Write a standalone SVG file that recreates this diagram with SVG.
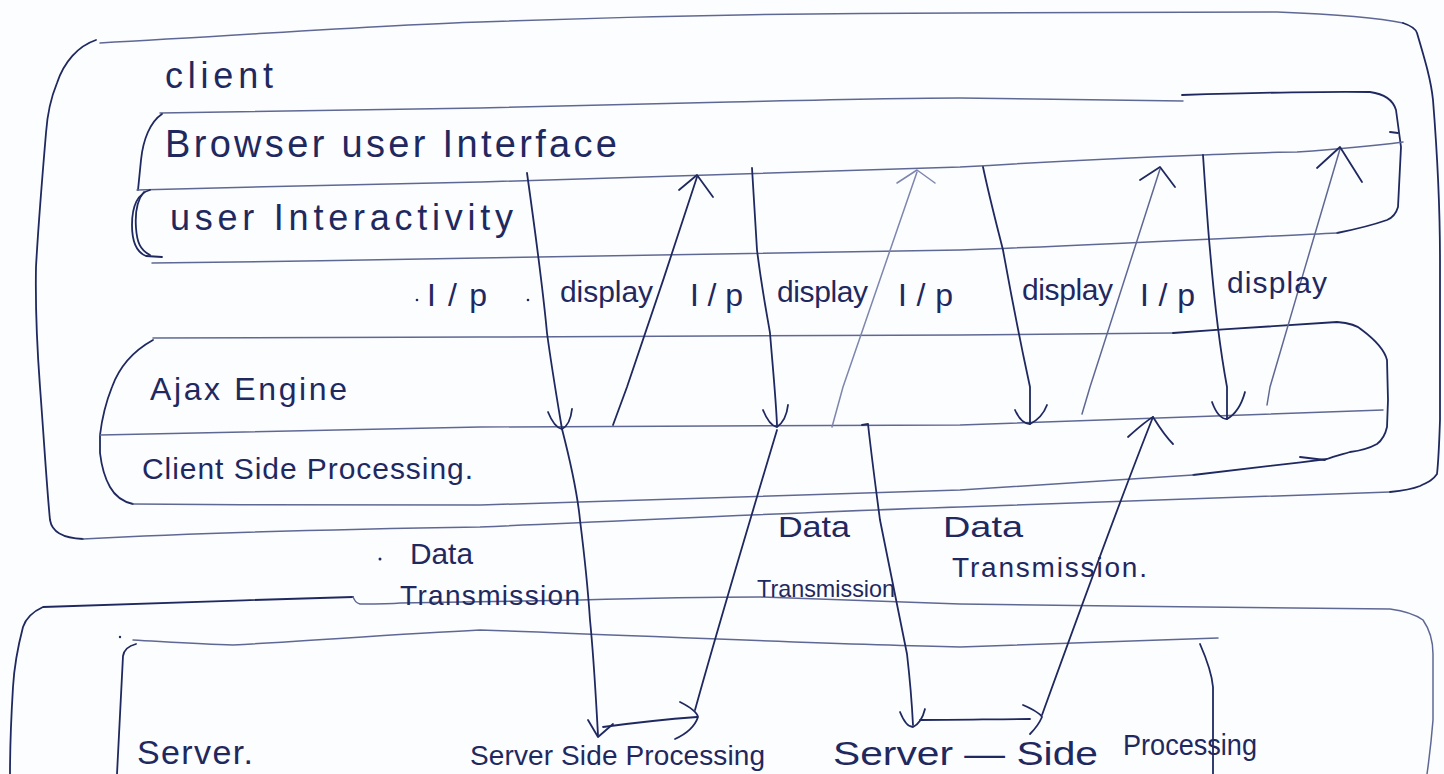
<svg xmlns="http://www.w3.org/2000/svg" width="1444" height="774" viewBox="0 0 1444 774">
  <style>
    .ink { fill: none; stroke: #1f2960; stroke-width: 1.8; stroke-linecap: round; stroke-linejoin: round; }
    .faint { fill: none; stroke: #5f6894; stroke-width: 1.5; stroke-linecap: round; stroke-linejoin: round; }
    .pale { fill: none; stroke: #7d86ad; stroke-width: 1.5; stroke-linecap: round; stroke-linejoin: round; }
    .txt { font-family: "Liberation Sans", "DejaVu Sans", sans-serif; fill: #1f2960; }
    .dot { fill: #1f2960; }
  </style>

  <rect width="1444" height="774" fill="#fcfdff"/>

  <!-- outer client boundary -->
  <g id="client">
    <path class="faint" d="M100,43 C250,35 380,25 480,22 C640,16 800,13 960,13 C1100,12 1200,12 1277,12 C1330,14 1380,18 1403,23"/>
    <path class="ink" d="M96,40 C78,46 64,62 57,83 C50,100 47,118 46,133 C42,180 38,230 36,267 C35,320 38,360 40,387 C44,440 47,490 50,520 C52,532 62,538 83,539"/>
    <path class="faint" d="M83,539 C200,533 350,529 480,527 C650,520 800,512 960,507 C1150,500 1300,494 1390,492"/>
    <path class="ink" d="M1403,23 C1412,26 1416,30 1417,33 C1425,60 1431,80 1433,100 C1437,150 1440,200 1440,260 C1440,330 1440,380 1440,420 C1439,450 1438,465 1437,474 C1433,480 1428,482 1420,486 C1410,490 1400,491 1390,492"/>
    <text class="txt" x="165" y="88" font-size="36" textLength="108" lengthAdjust="spacing">client</text>
  </g>

  <!-- browser user interface / user interactivity -->
  <g id="browser-ui">
    <path class="faint" d="M160,113 C300,111 400,109 480,108 C600,105 680,103 730,102 C820,100 900,98 960,98 C1050,99 1130,100 1183,101"/>
    <path class="ink" d="M1182,95 C1250,93 1320,91 1370,92 C1385,94 1393,100 1396,110 L1401,147 L1398,207 C1396,214 1392,218 1387,220 C1370,226 1352,230 1337,233"/>
    <path class="ink" d="M162,114 C150,122 143,140 141,160 L138,190"/>
    <path class="faint" d="M137,190 C250,187 380,184 480,182 C650,177 820,170 960,167 C1060,161 1150,157 1203,155 C1250,153 1280,152 1297,152 C1340,149 1380,145 1403,142"/>
    <path class="ink" d="M1390,132 L1398,133"/>
    <path class="ink" d="M150,190 C136,194 132,210 132,225 C132,240 136,252 146,256 L162,257"/>
    <path class="ink" d="M144,192 C137,200 135,214 136,228 C137,242 140,250 150,255"/>
    <path class="faint" d="M152,263 C250,262 380,260 480,258 C650,255 820,252 960,250 C1100,245 1250,237 1337,233"/>
    <text class="txt" x="165" y="157" font-size="38" textLength="452" lengthAdjust="spacing">Browser user Interface</text>
    <text class="txt" x="170" y="230" font-size="36" textLength="343" lengthAdjust="spacing">user Interactivity</text>
  </g>

  <!-- ajax engine / client side processing -->
  <g id="ajax-engine">
    <path class="faint" d="M153,338 C300,338 400,337 480,337 C650,336 820,335 960,335 C1060,334 1130,333 1173,333"/>
    <path class="ink" d="M1173,333 C1230,329 1300,324 1337,322 C1350,323 1358,326 1362,330 C1378,342 1385,352 1387,360 L1388,400 L1387,427 C1385,436 1381,441 1377,444 C1368,449 1358,451 1350,452 C1340,455 1333,457 1327,459 C1280,465 1230,471 1193,475"/>
    <path class="ink" d="M1300,457 L1325,460"/>
    <path class="ink" d="M153,340 C135,350 120,365 112,387 C106,402 102,418 100,435 L100,453 C102,470 106,480 110,487 C115,496 124,502 133,504"/>
    <path class="faint" d="M100,435 C250,431 380,428 480,427 C650,426 820,425 960,425 C1120,420 1280,414 1383,410"/>
    <path class="faint" d="M133,504 C250,505 380,505 480,505 C650,500 820,494 960,490 C1060,484 1140,478 1193,475"/>
    <text class="txt" x="150" y="400" font-size="32" textLength="197" lengthAdjust="spacing">Ajax Engine</text>
    <text class="txt" x="142" y="479" font-size="30" textLength="331" lengthAdjust="spacing">Client Side Processing.</text>
  </g>

  <!-- outer server boundary -->
  <g id="server">
    <path class="ink" d="M353,597 C250,600 130,604 43,607 C32,612 26,618 23,627 C17,650 14,670 13,687 C11,720 10,750 10,774"/>
    <path class="faint" d="M353,597 C355,601 356,603 360,604 C375,604 390,604 400,603 C460,602 520,601 580,600 C650,598 710,597 760,597 C830,599 900,602 960,604 C1100,606 1260,608 1390,609 C1405,611 1416,615 1423,620 C1430,630 1433,642 1433,654 L1433,720 C1431,745 1429,760 1427,774"/>
    <text class="txt" x="137" y="764" font-size="34" textLength="116" lengthAdjust="spacing">Server.</text>
  </g>

  <!-- inner server box -->
  <g id="server-inner">
    <circle class="dot" cx="120" cy="637" r="1.2"/>
    <path class="faint" d="M133,640 C170,642 200,644 233,645 C320,640 400,634 480,630 C650,636 820,644 960,647 C1060,644 1150,641 1218,638"/>
    <path class="ink" d="M136,644 C128,646 124,650 123,656 C121,690 119,730 117,774"/>
    <path class="ink" d="M1200,644 C1207,660 1212,675 1213,687 L1213,774"/>
    <text class="txt" x="470" y="765" font-size="28" textLength="295" lengthAdjust="spacing">Server Side Processing</text>
    <text class="txt" font-size="34"><tspan x="833" y="765" textLength="265" lengthAdjust="spacingAndGlyphs">Server — Side</tspan><tspan x="1123" y="755" font-size="30" textLength="134" lengthAdjust="spacingAndGlyphs">Processing</tspan></text>
  </g>

  <!-- request / response flows -->
  <g id="connectors">
    <!-- input 1: UI down to ajax, then down to server -->
    <path class="ink" d="M527,173 C535,230 543,290 547,333 C552,370 558,405 562,429"/>
    <path class="ink" d="M548,412 C552,422 556,428 562,429 C568,426 571,418 572,409"/>
    <path class="ink" d="M562,429 C570,460 577,490 580,520 C585,560 588,590 590,620 C594,660 596,700 598,735"/>
    <path class="ink" d="M588,720 L598,737 L613,724"/>
    <path class="ink" d="M603,727 C640,722 670,719 697,717"/>
    <path class="ink" d="M680,702 C690,707 697,712 698,717 C695,726 686,734 675,739"/>
    <!-- return from server processing 1 -->
    <path class="ink" d="M695,710 C720,620 750,520 777,430"/>
    <!-- display 1 -->
    <path class="ink" d="M613,425 L627,387 C650,320 675,245 697,177"/>
    <path class="ink" d="M679,190 L697,175 L713,197"/>
    <!-- input 2 -->
    <path class="ink" d="M752,168 C754,200 756,230 757,250 C762,290 767,315 770,333 C773,370 776,400 777,425"/>
    <path class="ink" d="M763,410 C767,420 771,426 777,427 C784,422 787,414 788,405"/>
    <!-- display 2 -->
    <path class="pale" d="M832,427 L843,387 C870,310 895,235 917,172"/>
    <path class="pale" d="M897,183 L917,170 L935,183"/>
    <!-- data transmission down to server 2 -->
    <path class="ink" d="M862,425 L868,424 C872,460 876,490 880,520 C890,570 900,620 907,654 C910,680 912,705 913,725"/>
    <path class="ink" d="M900,712 C904,722 908,727 913,727 C919,724 923,717 925,709"/>
    <path class="ink" d="M920,720 C960,720 1000,719 1030,719"/>
    <path class="ink" d="M1023,705 C1032,709 1040,713 1042,717 C1039,724 1035,729 1030,734"/>
    <!-- return from server processing 2 -->
    <path class="ink" d="M1042,715 C1080,610 1120,500 1153,417"/>
    <path class="ink" d="M1128,437 C1138,428 1146,421 1153,417 C1158,425 1164,435 1173,444"/>
    <!-- input 3 -->
    <path class="ink" d="M983,167 C990,200 998,230 1003,250 C1012,300 1022,350 1030,387 L1030,424"/>
    <path class="ink" d="M1015,410 C1019,419 1024,424 1030,424 C1038,420 1044,413 1047,405"/>
    <!-- display 3 -->
    <path class="faint" d="M1082,414 L1090,387 C1115,310 1140,230 1160,169"/>
    <path class="ink" d="M1140,180 L1160,167 L1175,187"/>
    <!-- input 4 -->
    <path class="ink" d="M1203,155 C1206,200 1208,230 1210,250 C1215,310 1222,360 1227,387 L1227,419"/>
    <path class="ink" d="M1212,402 C1216,413 1221,419 1227,419 C1236,414 1242,403 1245,392"/>
    <!-- display 4 -->
    <path class="faint" d="M1267,405 L1270,387 C1292,310 1318,225 1340,149"/>
    <path class="ink" d="M1317,168 L1340,147 L1362,182"/>
  </g>

  <!-- flow labels -->
  <g id="labels">
    <circle class="dot" cx="417" cy="300" r="1.3"/>
    <circle class="dot" cx="528" cy="300" r="1.3"/>
    <circle class="dot" cx="380" cy="559" r="1.5"/>
    <text class="txt" x="427" y="306" font-size="32" textLength="60" lengthAdjust="spacing">I/p</text>
    <text class="txt" x="690" y="306" font-size="32" textLength="53" lengthAdjust="spacing">I/p</text>
    <text class="txt" x="898" y="306" font-size="32" textLength="55" lengthAdjust="spacing">I/p</text>
    <text class="txt" x="1140" y="306" font-size="32" textLength="55" lengthAdjust="spacing">I/p</text>
    <text class="txt" x="560" y="302" font-size="30" textLength="93" lengthAdjust="spacing">display</text>
    <text class="txt" x="777" y="302" font-size="30" textLength="91" lengthAdjust="spacing">display</text>
    <text class="txt" x="1022" y="300" font-size="30" textLength="91" lengthAdjust="spacing">display</text>
    <text class="txt" x="1227" y="293" font-size="30" textLength="100" lengthAdjust="spacing">display</text>
    <text class="txt" x="410" y="564" font-size="30" textLength="63" lengthAdjust="spacingAndGlyphs">Data</text>
    <text class="txt" x="400" y="605" font-size="28" textLength="180" lengthAdjust="spacing">Transmission</text>
    <text class="txt" x="778" y="537" font-size="30" textLength="72" lengthAdjust="spacingAndGlyphs">Data</text>
    <text class="txt" x="757" y="597" font-size="24" textLength="138" lengthAdjust="spacingAndGlyphs">Transmission</text>
    <text class="txt" x="943" y="537" font-size="30" textLength="80" lengthAdjust="spacingAndGlyphs">Data</text>
    <text class="txt" x="952" y="577" font-size="28" textLength="195" lengthAdjust="spacing">Transmission.</text>
  </g>
</svg>
